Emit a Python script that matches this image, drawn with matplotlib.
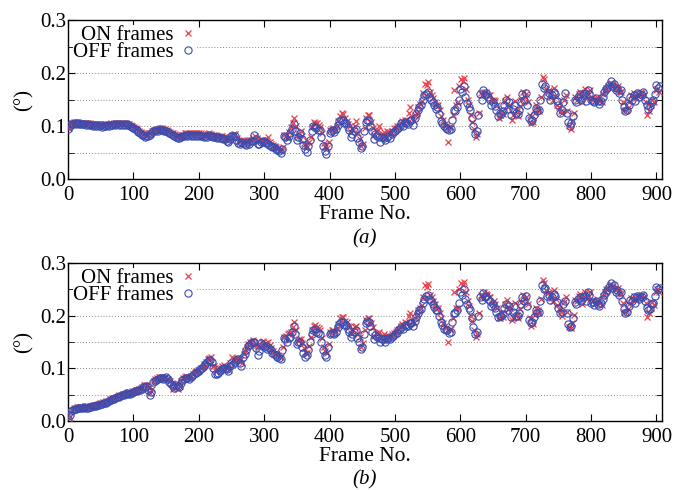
import numpy as np
import matplotlib
matplotlib.use('Agg')
import matplotlib.pyplot as plt
from matplotlib.ticker import MultipleLocator, FormatStrFormatter

# frame numbers (two interleaved samplings for each series)
off_frames = np.arange(0, 910, 5)
off_frames2 = np.arange(2.5, 905, 5)
on_frames = np.arange(1, 905, 5)
on_frames2 = np.arange(3.5, 905, 5)

# panel (a)
off_a = [0.094, 0.104, 0.105, 0.105, 0.104, 0.104, 0.103, 0.102, 0.102, 0.101, 0.101, 0.100, 0.101, 0.102, 0.103, 0.103, 0.104, 0.104, 0.103, 0.100,
         0.097, 0.092, 0.086, 0.083, 0.081, 0.084, 0.090, 0.092, 0.094, 0.093, 0.090, 0.087, 0.084, 0.080, 0.078, 0.081, 0.084, 0.083, 0.084, 0.083,
         0.084, 0.082, 0.081, 0.083, 0.081, 0.080, 0.079, 0.078, 0.076, 0.070, 0.081, 0.082, 0.068, 0.070, 0.067, 0.069, 0.071, 0.084, 0.067, 0.070,
         0.071, 0.068, 0.063, 0.060, 0.055, 0.049, 0.081, 0.074, 0.087, 0.103, 0.074, 0.087, 0.064, 0.051, 0.074, 0.100, 0.097, 0.093, 0.062, 0.047,
         0.087, 0.092, 0.095, 0.109, 0.112, 0.105, 0.092, 0.085, 0.095, 0.070, 0.062, 0.108, 0.110, 0.090, 0.085, 0.080, 0.079, 0.074, 0.082, 0.085,
         0.090, 0.096, 0.105, 0.108, 0.104, 0.112, 0.116, 0.130, 0.140, 0.158, 0.165, 0.150, 0.140, 0.135, 0.110, 0.100, 0.095, 0.094, 0.130, 0.135,
         0.170, 0.175, 0.143, 0.130, 0.100, 0.090, 0.160, 0.168, 0.162, 0.150, 0.145, 0.130, 0.125, 0.128, 0.150, 0.145, 0.132, 0.125, 0.130, 0.160,
         0.162, 0.115, 0.112, 0.134, 0.130, 0.180, 0.175, 0.162, 0.158, 0.160, 0.140, 0.130, 0.162, 0.108, 0.105, 0.150, 0.155, 0.150, 0.162, 0.168,
         0.150, 0.145, 0.148, 0.148, 0.165, 0.172, 0.185, 0.180, 0.172, 0.168, 0.135, 0.130, 0.155, 0.158, 0.162, 0.160, 0.165, 0.140, 0.138, 0.150,
         0.178, 0.175]
off_a2 = [0.100, 0.103, 0.104, 0.103, 0.103, 0.102, 0.101, 0.100, 0.100, 0.100, 0.099, 0.100, 0.100, 0.101, 0.101, 0.102, 0.102, 0.102, 0.101, 0.098,
          0.094, 0.088, 0.083, 0.080, 0.082, 0.087, 0.090, 0.091, 0.092, 0.091, 0.088, 0.085, 0.082, 0.078, 0.079, 0.082, 0.082, 0.081, 0.082, 0.082,
          0.082, 0.080, 0.080, 0.081, 0.079, 0.078, 0.077, 0.076, 0.072, 0.075, 0.082, 0.074, 0.066, 0.068, 0.065, 0.066, 0.072, 0.076, 0.066, 0.069,
          0.068, 0.065, 0.060, 0.057, 0.052, 0.056, 0.079, 0.082, 0.094, 0.090, 0.080, 0.075, 0.056, 0.062, 0.090, 0.098, 0.092, 0.080, 0.052, 0.062,
          0.090, 0.088, 0.102, 0.112, 0.106, 0.098, 0.080, 0.090, 0.078, 0.058, 0.090, 0.112, 0.100, 0.076, 0.082, 0.070, 0.078, 0.080, 0.078, 0.088,
          0.094, 0.100, 0.100, 0.106, 0.110, 0.102, 0.122, 0.136, 0.150, 0.160, 0.155, 0.145, 0.132, 0.122, 0.105, 0.096, 0.092, 0.112, 0.128, 0.150,
          0.165, 0.155, 0.135, 0.115, 0.085, 0.120, 0.150, 0.158, 0.155, 0.140, 0.138, 0.118, 0.122, 0.140, 0.132, 0.120, 0.140, 0.122, 0.145, 0.150,
          0.140, 0.110, 0.120, 0.128, 0.150, 0.172, 0.158, 0.150, 0.165, 0.148, 0.125, 0.145, 0.125, 0.100, 0.118, 0.145, 0.160, 0.158, 0.148, 0.160,
          0.148, 0.152, 0.142, 0.155, 0.170, 0.178, 0.175, 0.168, 0.162, 0.150, 0.128, 0.140, 0.150, 0.148, 0.155, 0.158, 0.150, 0.132, 0.145, 0.160,
          0.172]
on_a = [0.097, 0.106, 0.107, 0.107, 0.106, 0.106, 0.105, 0.104, 0.104, 0.103, 0.103, 0.103, 0.104, 0.105, 0.105, 0.105, 0.106, 0.106, 0.104, 0.101,
        0.098, 0.094, 0.089, 0.086, 0.084, 0.087, 0.092, 0.094, 0.096, 0.095, 0.093, 0.089, 0.086, 0.083, 0.081, 0.084, 0.087, 0.086, 0.087, 0.086,
        0.087, 0.085, 0.084, 0.086, 0.084, 0.083, 0.082, 0.081, 0.079, 0.073, 0.084, 0.085, 0.071, 0.074, 0.070, 0.072, 0.074, 0.082, 0.071, 0.073,
        0.074, 0.079, 0.066, 0.062, 0.057, 0.052, 0.084, 0.078, 0.098, 0.115, 0.080, 0.090, 0.068, 0.060, 0.080, 0.108, 0.105, 0.098, 0.068, 0.058,
        0.092, 0.096, 0.100, 0.118, 0.122, 0.110, 0.100, 0.092, 0.110, 0.075, 0.066, 0.115, 0.120, 0.096, 0.090, 0.100, 0.085, 0.078, 0.088, 0.090,
        0.096, 0.100, 0.110, 0.112, 0.125, 0.116, 0.120, 0.135, 0.148, 0.180, 0.184, 0.158, 0.145, 0.140, 0.118, 0.104, 0.070, 0.098, 0.168, 0.145,
        0.188, 0.190, 0.150, 0.120, 0.095, 0.085, 0.162, 0.165, 0.160, 0.158, 0.150, 0.140, 0.120, 0.122, 0.155, 0.140, 0.120, 0.128, 0.138, 0.165,
        0.160, 0.120, 0.108, 0.140, 0.128, 0.192, 0.170, 0.168, 0.150, 0.155, 0.135, 0.125, 0.158, 0.100, 0.110, 0.155, 0.160, 0.145, 0.170, 0.162,
        0.152, 0.148, 0.150, 0.145, 0.168, 0.175, 0.182, 0.172, 0.175, 0.165, 0.130, 0.134, 0.158, 0.162, 0.160, 0.164, 0.158, 0.120, 0.140, 0.145,
        0.170]
on_a2 = [0.103, 0.107, 0.108, 0.106, 0.106, 0.105, 0.105, 0.104, 0.103, 0.103, 0.102, 0.103, 0.104, 0.104, 0.106, 0.105, 0.106, 0.105, 0.103, 0.100,
         0.096, 0.090, 0.086, 0.084, 0.086, 0.090, 0.093, 0.095, 0.096, 0.094, 0.091, 0.087, 0.085, 0.082, 0.083, 0.086, 0.086, 0.087, 0.086, 0.086,
         0.086, 0.084, 0.085, 0.085, 0.083, 0.082, 0.081, 0.080, 0.076, 0.080, 0.085, 0.077, 0.072, 0.073, 0.071, 0.073, 0.077, 0.078, 0.072, 0.074,
         0.072, 0.070, 0.064, 0.060, 0.055, 0.060, 0.082, 0.088, 0.105, 0.100, 0.085, 0.082, 0.062, 0.070, 0.098, 0.106, 0.102, 0.086, 0.060, 0.070,
         0.095, 0.094, 0.110, 0.124, 0.115, 0.104, 0.088, 0.100, 0.086, 0.062, 0.096, 0.120, 0.108, 0.084, 0.092, 0.082, 0.088, 0.090, 0.086, 0.096,
         0.100, 0.106, 0.105, 0.112, 0.136, 0.110, 0.125, 0.142, 0.162, 0.178, 0.165, 0.152, 0.140, 0.130, 0.112, 0.100, 0.098, 0.120, 0.140, 0.175,
         0.185, 0.170, 0.140, 0.108, 0.080, 0.125, 0.158, 0.165, 0.158, 0.150, 0.148, 0.115, 0.128, 0.148, 0.135, 0.112, 0.148, 0.118, 0.150, 0.155,
         0.145, 0.105, 0.125, 0.132, 0.155, 0.188, 0.165, 0.155, 0.172, 0.140, 0.128, 0.150, 0.128, 0.095, 0.125, 0.150, 0.165, 0.160, 0.152, 0.168,
         0.150, 0.155, 0.148, 0.160, 0.172, 0.180, 0.178, 0.170, 0.165, 0.145, 0.130, 0.145, 0.155, 0.152, 0.160, 0.162, 0.145, 0.128, 0.150, 0.168,
         0.165]

# panel (b)
off_b = [0.003, 0.018, 0.022, 0.024, 0.025, 0.026, 0.025, 0.027, 0.028, 0.030, 0.032, 0.034, 0.036, 0.040, 0.042, 0.045, 0.047, 0.050, 0.053, 0.052,
         0.055, 0.056, 0.058, 0.064, 0.066, 0.050, 0.074, 0.078, 0.082, 0.080, 0.084, 0.074, 0.066, 0.068, 0.064, 0.078, 0.082, 0.080, 0.086, 0.092,
         0.094, 0.100, 0.108, 0.116, 0.112, 0.090, 0.092, 0.098, 0.100, 0.094, 0.110, 0.112, 0.118, 0.104, 0.128, 0.142, 0.148, 0.150, 0.125, 0.148,
         0.140, 0.136, 0.135, 0.128, 0.122, 0.118, 0.157, 0.150, 0.160, 0.180, 0.147, 0.150, 0.130, 0.125, 0.150, 0.172, 0.170, 0.165, 0.135, 0.122,
         0.166, 0.168, 0.170, 0.185, 0.188, 0.182, 0.170, 0.165, 0.172, 0.150, 0.140, 0.186, 0.188, 0.170, 0.163, 0.158, 0.155, 0.150, 0.158, 0.160,
         0.165, 0.172, 0.178, 0.182, 0.180, 0.186, 0.190, 0.205, 0.212, 0.232, 0.240, 0.228, 0.217, 0.210, 0.188, 0.175, 0.172, 0.170, 0.205, 0.210,
         0.245, 0.250, 0.223, 0.210, 0.178, 0.170, 0.236, 0.243, 0.238, 0.228, 0.222, 0.208, 0.200, 0.204, 0.223, 0.218, 0.208, 0.200, 0.206, 0.236,
         0.238, 0.192, 0.188, 0.210, 0.208, 0.258, 0.252, 0.240, 0.236, 0.238, 0.215, 0.208, 0.228, 0.185, 0.180, 0.226, 0.232, 0.228, 0.238, 0.245,
         0.225, 0.220, 0.222, 0.224, 0.240, 0.249, 0.262, 0.258, 0.249, 0.245, 0.212, 0.208, 0.230, 0.235, 0.238, 0.236, 0.240, 0.215, 0.212, 0.225,
         0.255, 0.252]
off_b2 = [0.012, 0.020, 0.023, 0.025, 0.024, 0.025, 0.026, 0.028, 0.029, 0.031, 0.033, 0.035, 0.038, 0.041, 0.043, 0.046, 0.049, 0.051, 0.052, 0.054,
          0.056, 0.058, 0.060, 0.064, 0.058, 0.055, 0.076, 0.080, 0.081, 0.082, 0.080, 0.070, 0.062, 0.066, 0.072, 0.080, 0.081, 0.084, 0.090, 0.093,
          0.098, 0.104, 0.112, 0.115, 0.100, 0.090, 0.095, 0.100, 0.098, 0.104, 0.108, 0.115, 0.110, 0.122, 0.135, 0.145, 0.150, 0.138, 0.132, 0.145,
          0.142, 0.138, 0.130, 0.125, 0.120, 0.135, 0.155, 0.158, 0.170, 0.165, 0.150, 0.140, 0.122, 0.135, 0.165, 0.175, 0.168, 0.150, 0.125, 0.140,
          0.168, 0.165, 0.178, 0.188, 0.182, 0.175, 0.160, 0.170, 0.158, 0.136, 0.165, 0.190, 0.180, 0.155, 0.160, 0.150, 0.156, 0.155, 0.156, 0.162,
          0.168, 0.175, 0.175, 0.180, 0.186, 0.180, 0.198, 0.210, 0.225, 0.238, 0.232, 0.222, 0.210, 0.200, 0.182, 0.172, 0.168, 0.188, 0.205, 0.225,
          0.240, 0.232, 0.215, 0.195, 0.165, 0.200, 0.230, 0.236, 0.232, 0.218, 0.215, 0.198, 0.200, 0.215, 0.210, 0.198, 0.218, 0.200, 0.222, 0.228,
          0.218, 0.186, 0.198, 0.205, 0.228, 0.250, 0.238, 0.230, 0.242, 0.226, 0.205, 0.222, 0.205, 0.178, 0.196, 0.222, 0.236, 0.235, 0.228, 0.240,
          0.226, 0.228, 0.218, 0.232, 0.246, 0.255, 0.252, 0.246, 0.240, 0.228, 0.205, 0.218, 0.228, 0.225, 0.232, 0.236, 0.228, 0.210, 0.222, 0.238,
          0.250]
on_b = [0.006, 0.020, 0.025, 0.026, 0.027, 0.028, 0.027, 0.029, 0.030, 0.032, 0.034, 0.036, 0.038, 0.042, 0.044, 0.047, 0.049, 0.052, 0.055, 0.054,
        0.057, 0.058, 0.062, 0.068, 0.069, 0.054, 0.076, 0.081, 0.084, 0.082, 0.080, 0.076, 0.060, 0.070, 0.066, 0.082, 0.085, 0.083, 0.090, 0.094,
        0.097, 0.102, 0.112, 0.120, 0.105, 0.094, 0.100, 0.104, 0.103, 0.097, 0.122, 0.116, 0.120, 0.110, 0.132, 0.146, 0.150, 0.145, 0.142, 0.150,
        0.145, 0.150, 0.138, 0.130, 0.125, 0.121, 0.160, 0.165, 0.170, 0.188, 0.152, 0.156, 0.138, 0.130, 0.160, 0.180, 0.178, 0.172, 0.140, 0.130,
        0.170, 0.172, 0.176, 0.195, 0.198, 0.188, 0.180, 0.172, 0.180, 0.160, 0.148, 0.192, 0.196, 0.178, 0.168, 0.170, 0.162, 0.158, 0.162, 0.166,
        0.170, 0.175, 0.185, 0.188, 0.200, 0.190, 0.196, 0.210, 0.220, 0.258, 0.260, 0.235, 0.222, 0.215, 0.195, 0.180, 0.150, 0.175, 0.245, 0.215,
        0.262, 0.265, 0.228, 0.200, 0.172, 0.165, 0.240, 0.245, 0.240, 0.236, 0.228, 0.215, 0.195, 0.198, 0.230, 0.215, 0.196, 0.202, 0.212, 0.240,
        0.236, 0.196, 0.184, 0.215, 0.205, 0.268, 0.248, 0.246, 0.228, 0.232, 0.212, 0.200, 0.236, 0.178, 0.186, 0.230, 0.238, 0.222, 0.245, 0.240,
        0.228, 0.224, 0.226, 0.220, 0.245, 0.252, 0.260, 0.250, 0.252, 0.242, 0.208, 0.212, 0.234, 0.238, 0.236, 0.240, 0.236, 0.198, 0.215, 0.220,
        0.250]
on_b2 = [0.016, 0.024, 0.026, 0.027, 0.026, 0.028, 0.029, 0.031, 0.031, 0.034, 0.036, 0.038, 0.041, 0.044, 0.046, 0.049, 0.052, 0.054, 0.055, 0.057,
         0.058, 0.061, 0.064, 0.068, 0.062, 0.060, 0.079, 0.083, 0.084, 0.084, 0.078, 0.072, 0.066, 0.060, 0.075, 0.083, 0.083, 0.086, 0.093, 0.096,
         0.100, 0.108, 0.118, 0.122, 0.104, 0.095, 0.100, 0.106, 0.100, 0.110, 0.116, 0.120, 0.115, 0.128, 0.140, 0.150, 0.154, 0.145, 0.140, 0.152,
         0.148, 0.144, 0.132, 0.128, 0.122, 0.140, 0.162, 0.168, 0.178, 0.172, 0.155, 0.148, 0.130, 0.142, 0.172, 0.182, 0.176, 0.158, 0.132, 0.146,
         0.172, 0.170, 0.185, 0.198, 0.190, 0.180, 0.168, 0.178, 0.165, 0.140, 0.172, 0.196, 0.186, 0.162, 0.168, 0.160, 0.165, 0.162, 0.162, 0.168,
         0.172, 0.180, 0.180, 0.186, 0.205, 0.186, 0.202, 0.215, 0.236, 0.255, 0.240, 0.228, 0.215, 0.205, 0.186, 0.176, 0.174, 0.195, 0.215, 0.250,
         0.258, 0.245, 0.218, 0.190, 0.160, 0.205, 0.236, 0.242, 0.236, 0.225, 0.222, 0.195, 0.205, 0.222, 0.212, 0.192, 0.225, 0.196, 0.226, 0.232,
         0.222, 0.180, 0.202, 0.210, 0.232, 0.262, 0.244, 0.234, 0.248, 0.220, 0.208, 0.226, 0.208, 0.176, 0.202, 0.228, 0.242, 0.238, 0.232, 0.246,
         0.228, 0.232, 0.224, 0.238, 0.250, 0.258, 0.256, 0.248, 0.244, 0.225, 0.208, 0.222, 0.232, 0.230, 0.238, 0.240, 0.225, 0.205, 0.226, 0.245,
         0.245]

plt.rcParams['font.family'] = 'Liberation Serif'
plt.rcParams['font.size'] = 15

fig = plt.figure(figsize=(6.78, 4.90), dpi=100)
ax_a = fig.add_axes([0.1003, 0.6347, 0.8757, 0.3243])
ax_b = fig.add_axes([0.1003, 0.141, 0.8757, 0.322])

red = '#e8404a'
blue = '#3a4cb0'

panels = [(ax_a, on_a, on_a2, off_a, off_a2, '(a)', -0.375),
          (ax_b, on_b, on_b2, off_b, off_b2, '(b)', -0.371)]

for ax, on1, on2, off1, off2, tag, ty in panels:
    x_on = np.concatenate([on_frames, on_frames2])
    y_on = np.concatenate([on1, on2])
    x_off = np.concatenate([off_frames, off_frames2])
    y_off = np.concatenate([off1, off2])
    ax.plot(x_on, y_on, linestyle='none', marker='x', ms=4.8, mew=0.9,
            color=red, label='ON frames', zorder=3)
    ax.plot(x_off, y_off, linestyle='none', marker='o', ms=5.2, mew=0.8,
            mfc='none', mec=blue, label='OFF frames', zorder=3)
    ax.set_xlim(0, 908)
    ax.set_ylim(0, 0.3)
    ax.xaxis.set_major_locator(MultipleLocator(100))
    ax.yaxis.set_major_locator(MultipleLocator(0.1))
    ax.yaxis.set_minor_locator(MultipleLocator(0.05))
    ax.yaxis.set_major_formatter(FormatStrFormatter('%.1f'))
    ax.tick_params(which='both', direction='in', top=True, right=True, labelsize=15)
    ax.tick_params(axis='y', pad=1)
    ax.tick_params(axis='x', pad=5)
    ax.tick_params(which='major', length=5)
    ax.tick_params(which='minor', length=4)
    ax.grid(True, axis='y', which='both', linestyle=(0, (1, 2)), color='#888888', linewidth=0.7)
    ax.set_ylabel('(°)', labelpad=5, fontsize=15)
    ax.set_xlabel('Frame No.', labelpad=0, fontsize=15.5)
    ax.text(0.5, ty, tag, transform=ax.transAxes, ha='center', va='center',
            style='italic', fontsize=15)
    for s in ax.spines.values():
        s.set_linewidth(1.0)
    leg = ax.legend(loc='upper left', markerfirst=False, frameon=True, framealpha=1,
                    edgecolor='none', borderpad=0.0, handlelength=0.8, handletextpad=0.3,
                    labelspacing=-0.1, borderaxespad=0.25, fontsize=15)
    leg.set_zorder(5)

fig.savefig('out.png', dpi=100)
